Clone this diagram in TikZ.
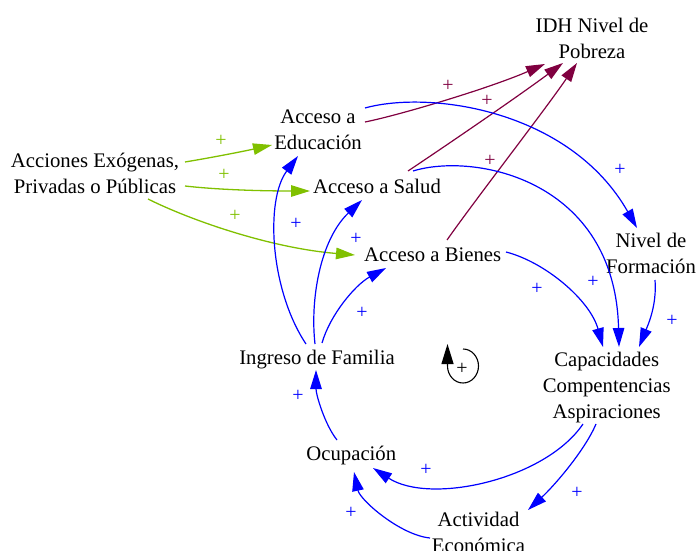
\documentclass[tikz,border=0pt]{standalone}
\usepackage{fontspec}
\setmainfont{Liberation Serif}
\usetikzlibrary{arrows.meta}
\definecolor{cldblue}{RGB}{0,0,255}
\definecolor{cldred}{RGB}{128,0,64}
\definecolor{cldgreen}{RGB}{128,192,0}
\tikzset{
  var/.style={font=\fontsize{20.8}{26}\selectfont, inner sep=0pt, align=center},
  pol/.style={font=\fontsize{20}{24}\selectfont, inner sep=0pt},
  tipstyle/.style={-{Triangle[length=19bp,width=11.5bp]}},
  linkb/.style={tipstyle, color=cldblue, line width=1.2bp},
  linkr/.style={tipstyle, color=cldred, line width=1.2bp},
  linkg/.style={tipstyle, color=cldgreen, line width=1.3bp},
}
\begin{document}
\begin{tikzpicture}[x=1bp,y=-1bp]
\useasboundingbox (0,0) rectangle (699,551);

% variables
\node[var] (idh) at (592,38.3) {IDH Nivel de\\Pobreza};
\node[var] (edu) at (318,129.7) {Acceso a\\Educación};
\node[var] (acc) at (95,173) {Acciones Exógenas,\\Privadas o Públicas};
\node[var] (sal) at (377,186) {Acceso a Salud};
\node[var] (bie) at (432.7,254.7) {Acceso a Bienes};
\node[var] (niv) at (651,253) {Nivel de\\Formación};
\node[var] (ing) at (317,360) {Ingreso de Familia};
\node[var] (cap) at (606.7,387.2) {Capacidades\\Compentencias\\Aspiraciones};
\node[var] (ocu) at (351.3,455) {Ocupación};
\node[var] (act) at (478.5,532) {Actividad\\Económica};

% exogenous actions
\draw[linkg] ([shift={(90,-11)}]acc.center) .. controls (215,157) and (245,151) .. ([shift={(-46,15.3)}]edu.center);
\draw[linkg] ([shift={(90,13)}]acc.center) .. controls (220,190) and (265,191) .. ([shift={(-67,5)}]sal.center);
\draw[linkg] ([shift={(53,26)}]acc.center) .. controls (190,220) and (270,248) .. ([shift={(-77.7,0.3)}]bie.center);

% access to the development index
\draw[linkr] ([shift={(47,-7.7)}]edu.center) .. controls (400,115) and (490,88) .. ([shift={(-47,25.7)}]idh.center);
\draw[linkr] ([shift={(31,-15)}]sal.center) .. controls (450,143) and (520,95) .. ([shift={(-29,24.7)}]idh.center);
\draw[linkr] ([shift={(14.3,-14.7)}]bie.center) .. controls (475,200) and (545,110) .. ([shift={(-15,24.7)}]idh.center);

% reinforcing loop
\draw[linkb] ([shift={(47,-21.7)}]edu.center) .. controls (430,90) and (570,110) .. ([shift={(-14,-25)}]niv.center);
\draw[linkb] ([shift={(36,-15)}]sal.center) .. controls (475,152) and (615,180) .. ([shift={(12.3,-40.2)}]cap.center);
\draw[linkb] ([shift={(73.3,-2.7)}]bie.center) .. controls (545,262) and (590,300) .. ([shift={(-3.7,-40.2)}]cap.center);
\draw[linkb] ([shift={(4,27)}]niv.center) .. controls (657,305) and (648,325) .. ([shift={(32.3,-40.2)}]cap.center);
\draw[linkb] ([shift={(-23.7,36.8)}]cap.center) .. controls (545,480) and (430,505) .. ([shift={(21.7,13)}]ocu.center);
\draw[linkb] ([shift={(-10.7,36.8)}]cap.center) .. controls (585,450) and (555,485) .. ([shift={(49.5,-22)}]act.center);
\draw[linkb] ([shift={(-48.5,6)}]act.center) .. controls (400,535) and (360,500) .. ([shift={(2.7,17)}]ocu.center);
\draw[linkb] ([shift={(-14.3,-15)}]ocu.center) .. controls (325,425) and (316,395) .. ([shift={(-1,10)}]ing.center);
\draw[linkb] ([shift={(-11,-16)}]ing.center) .. controls (270,290) and (265,200) .. ([shift={(-20,26.3)}]edu.center);
\draw[linkb] ([shift={(-2,-16)}]ing.center) .. controls (310,300) and (320,240) .. ([shift={(-15,14)}]sal.center);
\draw[linkb] ([shift={(5,-17)}]ing.center) .. controls (330,315) and (355,285) .. ([shift={(-46.7,13.3)}]bie.center);

% polarities
\node[pol, text=cldgreen] (pg1) at (221,141) {+};
\node[pol, text=cldgreen] (pg2) at (224,175) {+};
\node[pol, text=cldgreen] (pg3) at (235,216) {+};
\node[pol, text=cldred] (pr1) at (448,86) {+};
\node[pol, text=cldred] (pr2) at (487,101) {+};
\node[pol, text=cldred] (pr3) at (490,161) {+};
\node[pol, text=cldblue] (pb1) at (296,224) {+};
\node[pol, text=cldblue] (pb2) at (356,239) {+};
\node[pol, text=cldblue] (pb3) at (362,313) {+};
\node[pol, text=cldblue] (pb4) at (620,170) {+};
\node[pol, text=cldblue] (pb5) at (593,282) {+};
\node[pol, text=cldblue] (pb6) at (537,289) {+};
\node[pol, text=cldblue] (pb7) at (672,321) {+};
\node[pol, text=cldblue] (pb8) at (577,493) {+};
\node[pol, text=cldblue] (pb9) at (426,470) {+};
\node[pol, text=cldblue] (pb10) at (351,513) {+};
\node[pol, text=cldblue] (pb11) at (298,396) {+};

% loop marker
\node[pol] (loop) at (462,369) {+};
\draw[line width=1.1bp, -{Triangle[length=20bp,width=12bp]}]
  ([shift={(1,-20)}]loop.center) arc[start angle=-90, end angle=180, x radius=15.5, y radius=17]
  -- ++(0,-22);
\end{tikzpicture}
\end{document}
